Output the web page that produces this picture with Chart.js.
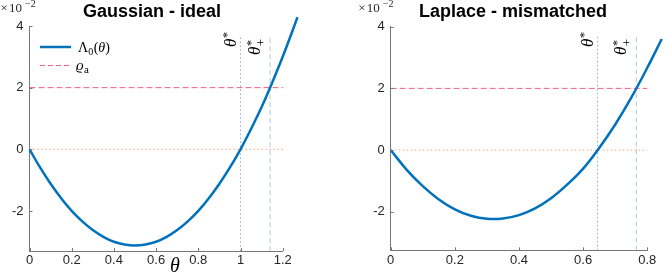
<!DOCTYPE html>
<html><head><meta charset="utf-8">
<script src="https://cdn.jsdelivr.net/npm/chart.js@4.4.1/dist/chart.umd.min.js"></script>
<style>
html,body{margin:0;padding:0;background:#fff;}
#wrap{position:relative;width:665px;height:274px;overflow:hidden;}
canvas{position:absolute;top:0;}
</style>
</head><body>
<div id="wrap">
<canvas id="c1" width="332" height="274" style="left:0px"></canvas>
<canvas id="c2" width="333" height="274" style="left:332px"></canvas>
</div>
<script>
// ---- data (values in units of 1e-2) ----
const titles = ["Gaussian - ideal", "Laplace - mismatched"];
const thetaG  = [0,0.05,0.1,0.15,0.2,0.25,0.3,0.35,0.4,0.45,0.5,0.55,0.6,0.65,0.7,0.75,0.8,0.85,0.9,0.95,1.0,1.05,1.1,1.15,1.2,1.25,1.27];
const lambdaG = [0,-0.59,-1.12,-1.59,-2.0,-2.34,-2.62,-2.84,-3.0,-3.09,-3.12,-3.09,-3.0,-2.84,-2.62,-2.34,-2.0,-1.59,-1.12,-0.59,0,0.66,1.37,2.16,3.0,3.91,4.29];
const thetaL  = [0,0.05,0.1,0.15,0.2,0.25,0.3,0.35,0.4,0.45,0.5,0.55,0.6,0.65,0.7,0.75,0.8,0.845];
const lambdaL = [0,-0.64,-1.17,-1.6,-1.92,-2.13,-2.23,-2.22,-2.11,-1.89,-1.56,-1.12,-0.6,0.07,0.83,1.7,2.67,3.6];
const xTicksG = [0,0.2,0.4,0.6,0.8,1,1.2];
const xTicksL = [0,0.2,0.4,0.6,0.8];
const yTicks  = [-2,0,2,4];
const rhoA = 2;                 // ϱa level
const thetaStarG = 1.0,  thetaPlusG = 1.14;
const thetaStarL = 0.645, thetaPlusL = 0.766;
const hLineEndG = 1.216, hLineEndL = 0.8;
const vLineTop = 3.7;

const SERIF = "'Liberation Serif','DejaVu Serif',serif";
const SANS  = "'Liberation Sans',Arial,Helvetica,sans-serif";

function textPlugin(c){
  return {
    id:'txt'+c.id,
    afterDraw(chart){
      const ctx = chart.ctx, xs = chart.scales.x, ys = chart.scales.y;
      ctx.save();
      // inward tick marks
      ctx.strokeStyle = '#777'; ctx.lineWidth = 1;
      ctx.beginPath();
      xs.ticks.forEach(t=>{const px=Math.round(xs.getPixelForValue(t.value))+0.5; ctx.moveTo(px, ys.bottom); ctx.lineTo(px, ys.bottom-3);});
      ys.ticks.forEach(t=>{const py=Math.round(ys.getPixelForValue(t.value))+0.5; ctx.moveTo(xs.left, py); ctx.lineTo(xs.left+3, py);});
      ctx.stroke();
      // title
      ctx.fillStyle = '#000';
      ctx.font = "bold 18px "+SANS;
      ctx.textAlign = 'center'; ctx.textBaseline = 'alphabetic';
      ctx.fillText(c.title, c.titleX, 17);
      // exponent label  ×10^-2
      ctx.fillStyle = '#262626';
      ctx.textAlign = 'left';
      ctx.font = "13px "+SERIF;
      ctx.fillText('×', c.expX, 12);
      ctx.fillText('10', c.expX+8.5, 12);
      ctx.font = "10px "+SERIF;
      ctx.fillText('−2', c.expX+24.5, 6.5);
      // rotated theta labels
      ctx.fillStyle = '#000';
      const drawTheta = (lineX, dx, by, plus) => {
        ctx.save();
        ctx.translate(lineX - dx, by);
        ctx.rotate(-Math.PI/2);
        ctx.font = "italic 17px "+SERIF;
        ctx.fillText('θ', 0, 0);
        const w = ctx.measureText('θ').width;
        ctx.font = "13px "+SERIF;
        ctx.fillText('*', w+0.5, -5);
        if (plus) ctx.fillText('+', w+0.5, 5);
        ctx.restore();
      };
      drawTheta(xs.getPixelForValue(c.star), 5, 47, false);
      drawTheta(xs.getPixelForValue(c.plus), 10, 55, true);
      if (c.legend){
        // legend
        ctx.lineWidth = 2.5; ctx.strokeStyle = '#0072BD'; ctx.setLineDash([]);
        ctx.beginPath(); ctx.moveTo(40,47); ctx.lineTo(71,47); ctx.stroke();
        ctx.lineWidth = 1; ctx.strokeStyle = '#f0607f'; ctx.setLineDash([5,3]);
        ctx.beginPath(); ctx.moveTo(40,65.5); ctx.lineTo(71,65.5); ctx.stroke();
        ctx.setLineDash([]);
        ctx.fillStyle = '#000';
        ctx.font = "14px "+SERIF;
        ctx.fillText('Λ', 78, 52);
        let x = 78 + ctx.measureText('Λ').width;
        ctx.font = "10px "+SERIF;
        ctx.fillText('0', x, 54.5);
        x += ctx.measureText('0').width + 0.5;
        ctx.font = "14px "+SERIF;
        ctx.fillText('(', x, 52); x += ctx.measureText('(').width;
        ctx.font = "italic 14px "+SERIF;
        ctx.fillText('θ', x, 52); x += ctx.measureText('θ').width;
        ctx.font = "14px "+SERIF;
        ctx.fillText(')', x, 52);
        ctx.font = "italic 15px "+SERIF;
        ctx.fillText('ϱ', 76, 70);
        const w2 = ctx.measureText('ϱ').width;
        ctx.font = "11px "+SERIF;
        ctx.fillText('a', 76+w2+0.5, 72.5);
        // x-axis label
        ctx.font = "italic 20px "+SERIF;
        ctx.textAlign = 'center';
        ctx.fillText('θ', 175, 272);
      }
      ctx.restore();
    }
  };
}

function makeChart(c){
  const xy = (xa, ya) => xa.map((t,i)=>({x:t, y:ya[i]}));
  new Chart(document.getElementById(c.id), {
    type:'line',
    data:{datasets:[
      {label:'Λ0(θ)', data:xy(c.theta, c.lambda), borderColor:'#0072BD', borderWidth:2.5, pointRadius:0, tension:0.4, clip:false},
      {label:'ϱa', data:xy([0,c.hEnd],[rhoA,rhoA]), borderColor:'#f0607f', borderWidth:1, borderDash:[6,3], pointRadius:0, tension:0},
      {label:'zero', data:xy([0,c.hEnd],[0,0]), borderColor:'#f4a283', borderWidth:1, borderDash:[1.5,2.5], pointRadius:0, tension:0},
      {label:'θ*', data:xy([c.star,c.star],[c.ymin,vLineTop]), borderColor:'#86aee6', borderWidth:1, borderDash:[1.5,2.5], pointRadius:0, tension:0},
      {label:'θ*+', data:xy([c.plus,c.plus],[c.ymin,vLineTop]), borderColor:'#b9d2e3', borderWidth:1.2, borderDash:[5,3], pointRadius:0, tension:0}
    ]},
    options:{
      responsive:false, animation:false, events:[],
      layout:{padding:{left:0, right:c.padRight, top:c.padTop, bottom:0}},
      plugins:{legend:{display:false}, tooltip:{enabled:false}, title:{display:false}},
      scales:{
        x:{type:'linear',
           afterDataLimits:s=>{s.min=0; s.max=c.xmax;},
           afterBuildTicks:s=>{s.ticks=c.xTicks.map(v=>({value:v}));},
           afterFit:s=>{s.height=c.xh;},
           grid:{display:false, drawTicks:false},
           border:{display:true, color:'#777', width:1},
           ticks:{color:'#262626', font:{family:SANS, size:13}, padding:2, maxRotation:0, callback:v=>String(v)}},
        y:{type:'linear', min:c.ymin, max:4,
           afterBuildTicks:s=>{s.ticks=yTicks.map(v=>({value:v}));},
           afterFit:s=>{s.width=c.yw;},
           grid:{display:false, drawTicks:false},
           border:{display:true, color:'#777', width:1},
           ticks:{color:'#262626', font:{family:SANS, size:13}, padding:6, callback:v=>String(v)}}
      }
    },
    plugins:[textPlugin(c)]
  });
}

makeChart({id:'c1', title:titles[0], titleX:152, expX:0.5, theta:thetaG, lambda:lambdaG, xTicks:xTicksG, xmax:1.2, ymin:-3.3,
  star:thetaStarG, plus:thetaPlusG, hEnd:hLineEndG, yw:29.5, xh:23, padRight:49.3, padTop:26, legend:true});
makeChart({id:'c2', title:titles[1], titleX:181, expX:26.3, theta:thetaL, lambda:lambdaL, xTicks:xTicksL, xmax:0.8, ymin:-3.25,
  star:thetaStarL, plus:thetaPlusL, hEnd:hLineEndL, yw:58.7, xh:23.7, padRight:17.7, padTop:26.7, legend:false});
</script>
</body></html>
